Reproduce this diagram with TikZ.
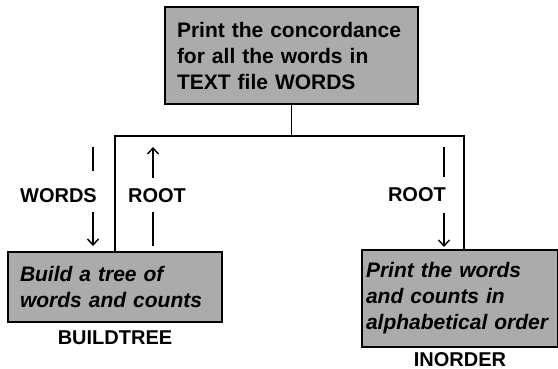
\documentclass[tikz,border=0pt]{standalone}
\usepackage{fontspec}
\setmainfont{Liberation Sans}
\usetikzlibrary{positioning,arrows.meta}

\tikzset{
    box/.style={draw=black, line width=2pt, fill=black!33, align=left,
        inner xsep=12pt, inner ysep=0pt, font=\fontsize{21}{26}\selectfont\bfseries},
    lab/.style={font=\fontsize{20}{24}\selectfont\bfseries, inner sep=0pt},
    wire/.style={line width=1.4pt},
    flow/.style={line width=1.4pt, -{Straight Barb[length=6pt,width=11pt,line width=1.4pt]}}
}

\begin{document}
\begin{tikzpicture}[x=1pt,y=-1pt]
        \useasboundingbox (0,0) rectangle (558,369);
        % Cajas
        \node[box, text width=229pt, minimum height=97pt] (main) at (291.5,55.5)
            {Print the concordance\\for all the words in\\TEXT file WORDS};
        \node[box, text width=190pt, minimum height=70pt, font=\fontsize{21}{26}\selectfont\bfseries\itshape] (build) at (115,287)
            {Build a tree of\\words and counts};
        \node[box, text width=188pt, inner xsep=4pt, minimum height=97pt, font=\fontsize{21}{26}\selectfont\bfseries\itshape] (inorder) at (460,298.5)
            {Print the words\\and counts in\\alphabetical order};
        \node[lab, below=8pt of build] (buildname) {BUILDTREE};
        \node[lab, below=4pt of inorder] (inordername) {INORDER};
        % Conexiones
        \draw[wire] (main.south) -- ++(0,31) coordinate (hub);
        \draw[wire] (build.north) |- (hub) -| ([xshift=4pt]inorder.north);
        % Parametros
        \node[lab, anchor=east] (wordslab) at (97,196) {WORDS};
        \node[lab] (rootlab) at (157,196) {ROOT};
        \node[lab, anchor=east] (rootlab2) at (446,195) {ROOT};
        \coordinate (w1) at (93,147); \coordinate (w2) at (93,171);
        \coordinate (w3) at (93,212); \coordinate (w4) at (93,246);
        \coordinate (r1) at (153,147); \coordinate (r2) at (153,178);
        \coordinate (r3) at (153,212); \coordinate (r4) at (153,246);
        \coordinate (s1) at (444,147); \coordinate (s2) at (444,177);
        \coordinate (s3) at (444,213); \coordinate (s4) at (444,247);
        \draw[wire] (w1) -- (w2);
        \draw[flow] (w3) -- (w4);
        \draw[flow] (r2) -- (r1);
        \draw[wire] (r3) -- (r4);
        \draw[wire] (s1) -- (s2);
        \draw[flow] (s3) -- (s4);
    \end{tikzpicture}
\end{document}
